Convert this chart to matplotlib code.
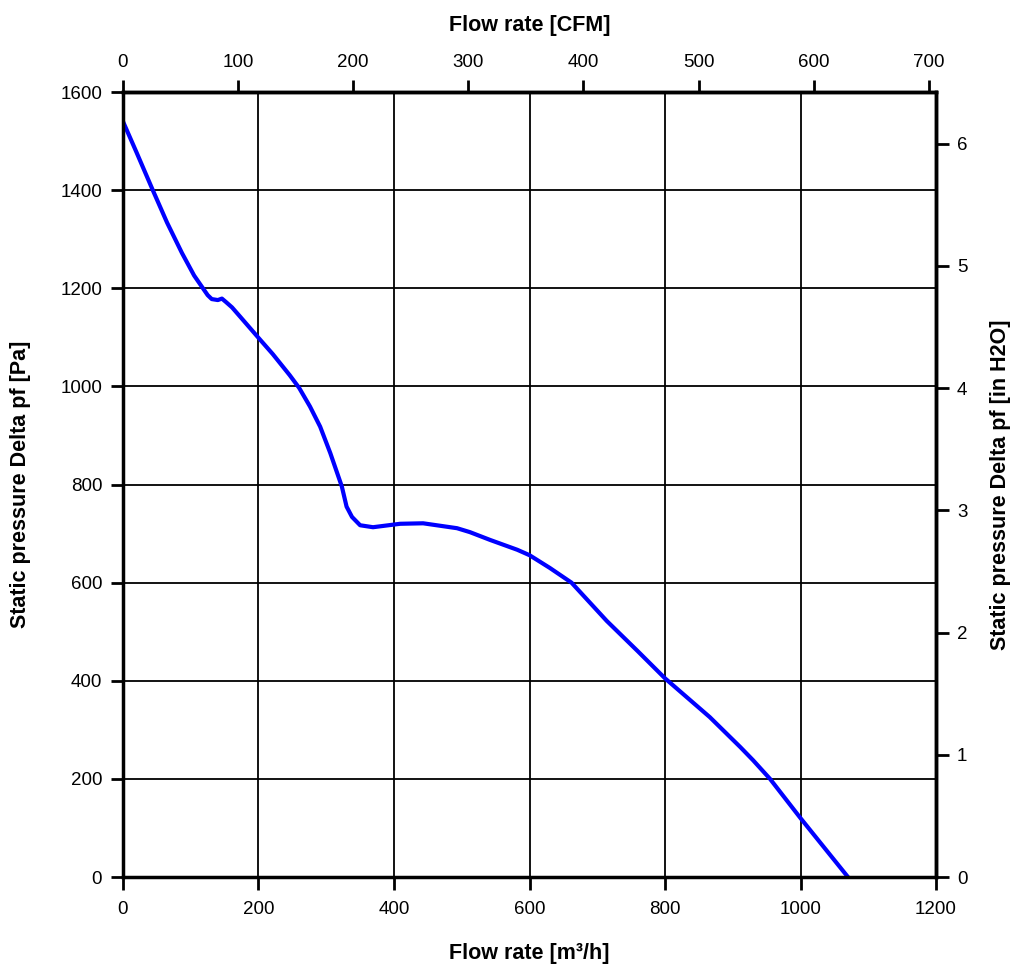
import matplotlib
matplotlib.use("Agg")
import matplotlib.pyplot as plt
import numpy as np

plt.rcParams["font.family"] = ["Liberation Sans", "DejaVu Sans"]

# fan curve (m3/h, Pa)
flow = [0, 20, 44, 65, 87, 105, 118, 125, 131, 140, 146, 152, 161, 173,
        200, 221, 246, 260, 276, 291, 306, 318, 323, 330, 338, 350, 369,
        409, 443, 493, 512, 542, 582, 600, 630, 662, 714, 760, 800, 866,
        911, 930, 955, 1000, 1070]
pressure = [1540, 1477, 1400, 1334, 1272, 1226, 1200, 1186, 1178, 1176,
            1179, 1172, 1161, 1142, 1099, 1066, 1023, 997, 959, 918, 864,
            816, 796, 755, 734, 717, 713, 720, 721, 711, 703, 687, 667,
            656, 630, 600, 522, 460, 405, 326, 265, 238, 200, 120, 0]

M3H_PER_CFM = 1.699
PA_PER_INH2O = 249.09

fig = plt.figure(figsize=(10.24, 9.76), dpi=100)
ax = fig.add_axes([0.1201, 0.1014, 0.7940, 0.8043])

ax.plot(flow, pressure, color="#0000ff", lw=3, solid_capstyle="round",
        solid_joinstyle="round")

ax.set_xlim(0, 1200)
ax.set_ylim(0, 1600)
ax.set_xticks(np.arange(0, 1201, 200))
ax.set_yticks(np.arange(0, 1601, 200))
ax.grid(True, color="black", lw=1.3)
ax.set_axisbelow(True)

for sp in ax.spines.values():
    sp.set_linewidth(2.5)

tick_kw = dict(direction="out", length=9, width=2, labelsize=13.5, color="black")
ax.tick_params(axis="x", **tick_kw, pad=8)
ax.tick_params(axis="y", **tick_kw, pad=6)

label_kw = dict(fontsize=15.5, fontweight="bold")
ax.set_xlabel("Flow rate [m³/h]", **label_kw, labelpad=18)
ax.set_ylabel("Static pressure Delta pf [Pa]", **label_kw, labelpad=21)

top = ax.secondary_xaxis("top", functions=(lambda x: x / M3H_PER_CFM,
                                           lambda c: c * M3H_PER_CFM))
top.set_xticks(np.arange(0, 701, 100))
top.tick_params(**tick_kw, pad=6)
top.spines["top"].set_linewidth(2.5)
top.set_xlabel("Flow rate [CFM]", **label_kw, labelpad=17)

right = ax.secondary_yaxis("right", functions=(lambda p: p / PA_PER_INH2O,
                                               lambda h: h * PA_PER_INH2O))
right.set_yticks(np.arange(0, 7, 1))
right.tick_params(**tick_kw, pad=6)
right.spines["right"].set_linewidth(2.5)
right.set_ylabel("Static pressure Delta pf [in H2O]", **label_kw, labelpad=16)

fig.savefig("out.png", dpi=100)
